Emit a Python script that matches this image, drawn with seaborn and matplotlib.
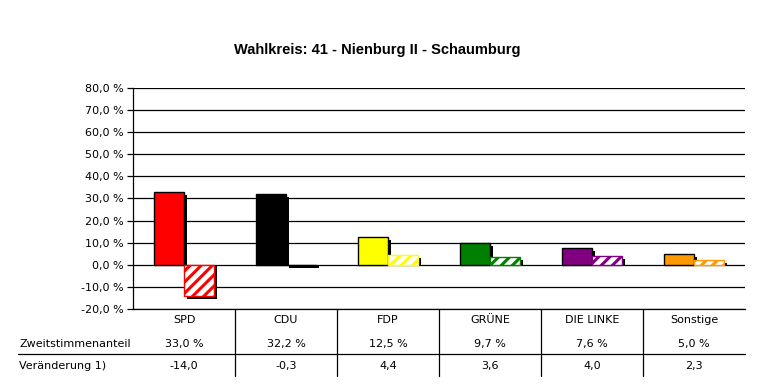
import matplotlib
matplotlib.use("Agg")
import matplotlib.pyplot as plt
import matplotlib.transforms as mtransforms
from matplotlib.patches import Rectangle
import numpy as np
import pandas as pd
import seaborn as sns

# data
parteien = ["SPD", "CDU", "FDP", "GRÜNE", "DIE LINKE", "Sonstige"]
anteil = [33.0, 32.2, 12.5, 9.7, 7.6, 5.0]
veraenderung = [-14.0, -0.3, 4.4, 3.6, 4.0, 2.3]
farben = ["#FF0000", "#000000", "#FFFF00", "#008000", "#800080", "#FF9900"]

sns.set_style("white")
plt.rcParams["font.family"] = ["DejaVu Sans"]
plt.rcParams["text.color"] = "black"
plt.rcParams["ytick.labelcolor"] = "black"
plt.rcParams["ytick.color"] = "black"
plt.rcParams["hatch.linewidth"] = 2.2
FS = 8

df = pd.DataFrame({
    "partei": parteien * 2,
    "art": ["Anteil"] * 6 + ["Veränderung"] * 6,
    "wert": anteil + veraenderung,
})

fig = plt.figure(figsize=(7.59, 3.92), dpi=100)
ax = fig.add_axes([133 / 759, 1 - 309 / 392, 612 / 759, 221 / 392])

sns.barplot(data=df, x="partei", y="wert", hue="art", order=parteien,
            hue_order=["Anteil", "Veränderung"], width=0.58, dodge=True,
            gap=0, legend=False, ax=ax, zorder=3)

ax.set_ylim(-20, 80)
ax.set_xlim(-0.5, 5.5)

bars = list(ax.patches)
for i, bar in enumerate(bars[:6]):
    bar.set_facecolor(farben[i])
    bar.set_edgecolor("black")
    bar.set_linewidth(1.0)
for i, bar in enumerate(bars[6:12]):
    bar.set_facecolor("white")
    bar.set_hatch("///")
    if hasattr(bar, "set_hatchcolor"):
        bar.set_hatchcolor(farben[i])
        bar.set_edgecolor("black")
    else:
        bar.set_edgecolor(farben[i])
    bar.set_linewidth(1.0)

# drop shadows (3 px right / down), taken from each bar's geometry
px_y = 100 / 221 * 3
shift_x = mtransforms.ScaledTranslation(3 / 100, 0, fig.dpi_scale_trans)
for bar in bars:
    x, w, h = bar.get_x(), bar.get_width(), bar.get_height()
    if h >= 0:
        sh = Rectangle((x, 0), w, max(h - px_y, 0))
    else:
        sh = Rectangle((x, 0), w, h - px_y)
    sh.set_transform(ax.transData + shift_x)
    sh.set_facecolor("black")
    sh.set_edgecolor("none")
    sh.set_zorder(2)
    ax.add_patch(sh)

yt = np.arange(-20, 81, 10)
ax.set_yticks(yt)
ax.set_yticklabels([f"{v:.1f} %".replace(".", ",") for v in yt], fontsize=FS)
for y in yt:
    ax.axhline(y, color="black", lw=0.9, zorder=1)
ax.tick_params(axis="y", length=4, width=0.9, color="black", pad=3, left=True)
ax.set_xticks([])
ax.set_xlabel("")
ax.set_ylabel("")
for s in ["top", "right"]:
    ax.spines[s].set_visible(False)
for s in ["left", "bottom"]:
    ax.spines[s].set_color("black")
    ax.spines[s].set_linewidth(0.9)
    ax.spines[s].set_zorder(4)

fig.text(377 / 759, 1 - 50 / 392, "Wahlkreis: 41 - Nienburg II - Schaumburg",
         ha="center", va="center", fontsize=10.5, fontweight="bold",
         family="Liberation Sans", color="black")

# table below the chart
trans = mtransforms.blended_transform_factory(ax.transData, fig.transFigure)
def fy(px):
    return 1 - px / 392

for i, p in enumerate(parteien):
    ax.text(i, fy(320), p, transform=trans, ha="center", va="center", fontsize=FS)
    ax.text(i, fy(344), f"{anteil[i]:.1f} %".replace(".", ","), transform=trans,
            ha="center", va="center", fontsize=FS)
    ax.text(i, fy(366), f"{veraenderung[i]:.1f}".replace(".", ","), transform=trans,
            ha="center", va="center", fontsize=FS)
for i in range(5):
    ax.plot([i + 0.5, i + 0.5], [fy(309), fy(376)], transform=trans,
            color="black", lw=0.9, clip_on=False)

fig.text(19 / 759, fy(344), "Zweitstimmenanteil", ha="left", va="center", fontsize=FS)
fig.text(19 / 759, fy(366), "Veränderung 1)", ha="left", va="center", fontsize=FS)
fig.add_artist(plt.Line2D([18 / 759, 745 / 759], [fy(354), fy(354)], color="black", lw=0.9))

fig.savefig("out.png", dpi=100)
